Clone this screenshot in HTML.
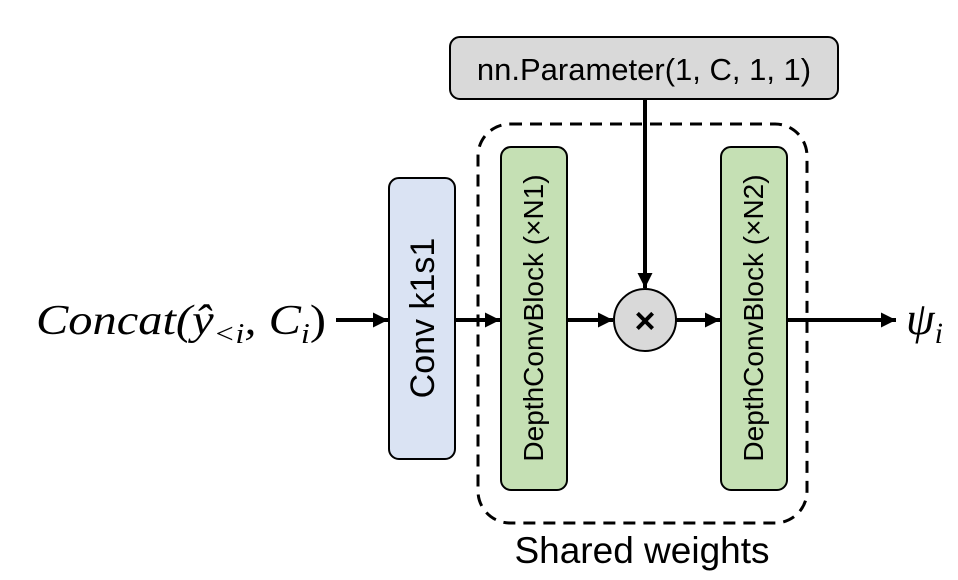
<!DOCTYPE html>
<html><head><meta charset="utf-8"><style>html,body{margin:0;padding:0;background:#fff}svg{display:block}</style></head>
<body>
<svg width="958" height="580" viewBox="0 0 958 580" xmlns="http://www.w3.org/2000/svg" font-family="Liberation Sans, DejaVu Sans, sans-serif">
<defs>
<marker id="b" viewBox="0 0 10 10" markerWidth="18" markerHeight="15" refX="10" refY="5" orient="auto" markerUnits="userSpaceOnUse"><path d="M0,0 L10,5 L0,10 z"/></marker></defs>
<rect x="450" y="37" width="388" height="62" rx="10" fill="#d9d9d9" stroke="#000" stroke-width="2"/>
<text x="644" y="80" font-size="31" text-anchor="middle">nn.Parameter(1, C, 1, 1)</text>
<rect x="478" y="124" width="329" height="399" rx="32" fill="none" stroke="#000" stroke-width="3" stroke-dasharray="12,8"/>
<rect x="389" y="178" width="66" height="281" rx="10" fill="#dae3f3" stroke="#000" stroke-width="2"/>
<text transform="translate(434,318) rotate(-90)" font-size="34" text-anchor="middle">Conv k1s1</text>
<rect x="501" y="147" width="66" height="343" rx="10" fill="#c5e0b4" stroke="#000" stroke-width="2"/>
<text transform="translate(543,318) rotate(-90)" font-size="28" text-anchor="middle">DepthConvBlock (×N1)</text>
<rect x="721" y="147" width="66" height="343" rx="10" fill="#c5e0b4" stroke="#000" stroke-width="2"/>
<text transform="translate(763,318) rotate(-90)" font-size="28" text-anchor="middle">DepthConvBlock (×N2)</text>
<circle cx="645" cy="320" r="31" fill="#d9d9d9" stroke="#000" stroke-width="2"/>
<text x="645" y="333" font-size="36" text-anchor="middle" font-weight="bold">×</text>
<g stroke="#000" stroke-width="4" fill="none">
<line x1="645" y1="99" x2="645" y2="288" marker-end="url(#b)"/>
<line x1="336" y1="320" x2="388" y2="320" marker-end="url(#b)"/>
<line x1="455" y1="320" x2="500" y2="320" marker-end="url(#b)"/>
<line x1="567" y1="320" x2="613" y2="320" marker-end="url(#b)"/>
<line x1="676" y1="320" x2="720" y2="320" marker-end="url(#b)"/>
<line x1="787" y1="320" x2="896" y2="320" marker-end="url(#b)"/>
</g>
<text x="36" y="334" font-family="Liberation Serif, serif" font-style="italic" font-size="42" textLength="290" lengthAdjust="spacingAndGlyphs">Concat(ŷ<tspan font-size="28" dy="9">&lt;i</tspan><tspan dy="-9">, C</tspan><tspan font-size="28" dy="9">i</tspan><tspan dy="-9" font-style="normal">)</tspan></text>
<text x="906" y="334" font-family="Liberation Serif, serif" font-style="italic" font-size="46">ψ<tspan font-size="30" dy="9">i</tspan></text>
<text x="642" y="563" font-size="37" text-anchor="middle">Shared weights</text>
</svg>
</body></html>
